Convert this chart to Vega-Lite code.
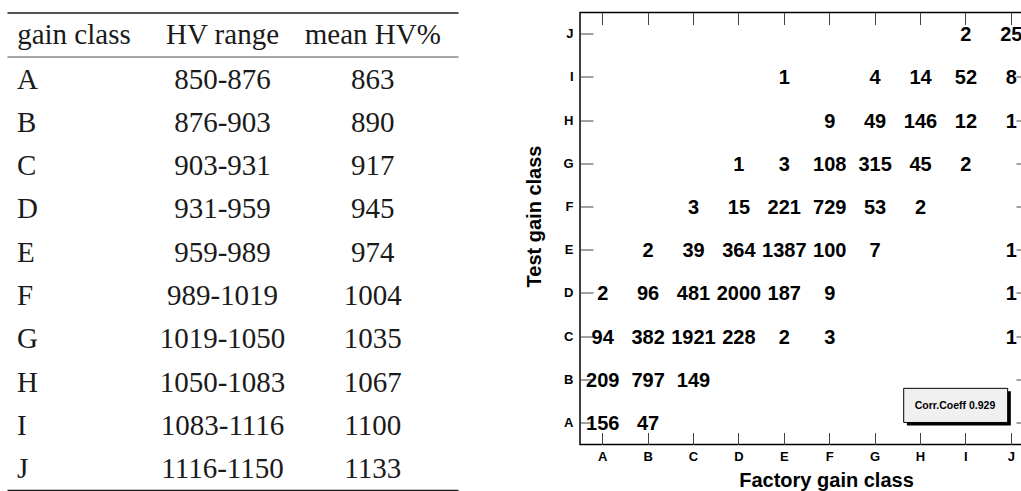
{
  "$schema": "https://vega.github.io/schema/vega-lite/v6.json",
  "background": "white",
  "padding": {"left": 7, "top": 10.5, "right": 0, "bottom": 0},
  "spacing": 65,
  "config": {
    "view": {"stroke": null},
    "axis": {"labelOverlap": false, "labelBound": false, "labelFlush": false}
  },
  "datasets": {
    "hv": [
      {"gain class": "A", "HV range": "850-876", "mean HV%": 863},
      {"gain class": "B", "HV range": "876-903", "mean HV%": 890},
      {"gain class": "C", "HV range": "903-931", "mean HV%": 917},
      {"gain class": "D", "HV range": "931-959", "mean HV%": 945},
      {"gain class": "E", "HV range": "959-989", "mean HV%": 974},
      {"gain class": "F", "HV range": "989-1019", "mean HV%": 1004},
      {"gain class": "G", "HV range": "1019-1050", "mean HV%": 1035},
      {"gain class": "H", "HV range": "1050-1083", "mean HV%": 1067},
      {"gain class": "I", "HV range": "1083-1116", "mean HV%": 1100},
      {"gain class": "J", "HV range": "1116-1150", "mean HV%": 1133}
    ],
    "counts": [
      {"test": "J", "factory": "I", "count": 2},
      {"test": "J", "factory": "J", "count": 25},
      {"test": "I", "factory": "E", "count": 1},
      {"test": "I", "factory": "G", "count": 4},
      {"test": "I", "factory": "H", "count": 14},
      {"test": "I", "factory": "I", "count": 52},
      {"test": "I", "factory": "J", "count": 8},
      {"test": "H", "factory": "F", "count": 9},
      {"test": "H", "factory": "G", "count": 49},
      {"test": "H", "factory": "H", "count": 146},
      {"test": "H", "factory": "I", "count": 12},
      {"test": "H", "factory": "J", "count": 1},
      {"test": "G", "factory": "D", "count": 1},
      {"test": "G", "factory": "E", "count": 3},
      {"test": "G", "factory": "F", "count": 108},
      {"test": "G", "factory": "G", "count": 315},
      {"test": "G", "factory": "H", "count": 45},
      {"test": "G", "factory": "I", "count": 2},
      {"test": "F", "factory": "C", "count": 3},
      {"test": "F", "factory": "D", "count": 15},
      {"test": "F", "factory": "E", "count": 221},
      {"test": "F", "factory": "F", "count": 729},
      {"test": "F", "factory": "G", "count": 53},
      {"test": "F", "factory": "H", "count": 2},
      {"test": "E", "factory": "B", "count": 2},
      {"test": "E", "factory": "C", "count": 39},
      {"test": "E", "factory": "D", "count": 364},
      {"test": "E", "factory": "E", "count": 1387},
      {"test": "E", "factory": "F", "count": 100},
      {"test": "E", "factory": "G", "count": 7},
      {"test": "E", "factory": "J", "count": 1},
      {"test": "D", "factory": "A", "count": 2},
      {"test": "D", "factory": "B", "count": 96},
      {"test": "D", "factory": "C", "count": 481},
      {"test": "D", "factory": "D", "count": 2000},
      {"test": "D", "factory": "E", "count": 187},
      {"test": "D", "factory": "F", "count": 9},
      {"test": "D", "factory": "J", "count": 1},
      {"test": "C", "factory": "A", "count": 94},
      {"test": "C", "factory": "B", "count": 382},
      {"test": "C", "factory": "C", "count": 1921},
      {"test": "C", "factory": "D", "count": 228},
      {"test": "C", "factory": "E", "count": 2},
      {"test": "C", "factory": "F", "count": 3},
      {"test": "C", "factory": "J", "count": 1},
      {"test": "B", "factory": "A", "count": 209},
      {"test": "B", "factory": "B", "count": 797},
      {"test": "B", "factory": "C", "count": 149},
      {"test": "A", "factory": "A", "count": 156},
      {"test": "A", "factory": "B", "count": 47}
    ],
    "stats": [
      {"stat": "Corr.Coeff", "value": 0.929}
    ]
  },
  "hconcat": [
    {
      "width": 451,
      "height": 477.4,
      "data": {"name": "hv"},
      "transform": [
        {"fold": ["gain class", "HV range", "mean HV%"], "as": ["column", "cell"]}
      ],
      "encoding": {
        "y": {
          "field": "gain class",
          "type": "nominal",
          "scale": {"type": "band", "domain": ["A", "B", "C", "D", "E", "F", "G", "H", "I", "J"], "paddingInner": 0, "paddingOuter": 0.5127, "align": 1},
          "axis": {
            "orient": "left",
            "title": null,
            "labels": false,
            "ticks": false,
            "domain": false,
            "grid": true,
            "bandPosition": 0.0001,
            "gridWidth": 1.6,
            "gridColor": {"condition": {"test": "datum.value === 'A'", "value": "#8a8a8a"}, "value": "transparent"}
          }
        },
        "text": {"field": "cell", "type": "nominal"}
      },
      "layer": [
        {
          "transform": [{"filter": "datum.column === 'gain class'"}],
          "mark": {"type": "text", "align": "left", "baseline": "middle", "dx": 10, "dy": 1, "font": "Liberation Serif", "fontSize": 29, "color": "#1a1a1a"},
          "encoding": {
            "x": {
              "field": "column",
              "type": "nominal",
              "bandPosition": 0.0001,
              "scale": {"type": "band", "domain": ["gain class", "HV range", "mean HV%"], "paddingInner": 0, "paddingOuter": 0},
              "axis": {
                "orient": "top",
                "title": null,
                "ticks": false,
                "tickSize": 0,
                "domain": true,
                "domainColor": "#1a1a1a",
                "domainWidth": 1.3,
                "labelFont": "Liberation Serif",
                "labelFontSize": 29,
                "labelColor": "#1a1a1a",
                "labelAngle": 0,
                "labelLimit": 0,
                "labelBaseline": "alphabetic",
                "labelPadding": -31,
                "labelAlign": {"condition": {"test": "datum.value === 'gain class'", "value": "left"}, "value": "center"},
                "labelOffset": {"condition": {"test": "datum.value === 'gain class'", "value": -65}, "value": -10}
              }
            }
          }
        },
        {
          "transform": [{"filter": "datum.column !== 'gain class'"}],
          "mark": {"type": "text", "align": "center", "baseline": "middle", "dx": -10, "dy": 1, "font": "Liberation Serif", "fontSize": 29, "color": "#1a1a1a"},
          "encoding": {
            "x": {
              "field": "column",
              "type": "nominal",
              "scale": {"type": "band", "domain": ["gain class", "HV range", "mean HV%"], "paddingInner": 0, "paddingOuter": 0},
              "axis": {
                "orient": "bottom",
                "title": null,
                "ticks": false,
                "tickSize": 0,
                "labels": false,
                "domain": true,
                "domainColor": "#1a1a1a",
                "domainWidth": 1.3
              }
            }
          }
        }
      ],
      "resolve": {"axis": {"x": "independent"}}
    },
    {
      "width": 454,
      "height": 432,
      "view": {"stroke": "#000000", "strokeWidth": 1.5},
      "layer": [
        {
          "data": {"name": "counts"},
          "mark": {"type": "text", "font": "Liberation Sans", "fontWeight": "bold", "fontSize": 20, "color": "#000000", "baseline": "middle", "dy": 1, "clip": true},
          "encoding": {
            "x": {
              "field": "factory",
              "type": "nominal",
              "scale": {"domain": ["A", "B", "C", "D", "E", "F", "G", "H", "I", "J"], "paddingInner": 0, "paddingOuter": 0},
              "axis": {
                "orient": "bottom",
                "domain": false,
                "ticks": true,
                "tickSize": -12,
                "tickColor": "#444444",
                "tickWidth": 1,
                "labelFont": "Liberation Sans",
                "labelFontWeight": "bold",
                "labelFontSize": 13,
                "labelColor": "#000000",
                "labelAngle": 0,
                "labelBaseline": "top",
                "labelPadding": 18,
                "title": "Factory gain class",
                "titleFont": "Liberation Sans",
                "titleFontWeight": "bold",
                "titleFontSize": 20,
                "titleColor": "#000000",
                "titleX": 246,
                "titleY": 41.5,
                "titleAlign": "center",
                "titleBaseline": "alphabetic"
              }
            },
            "y": {
              "field": "test",
              "type": "nominal",
              "scale": {"domain": ["J", "I", "H", "G", "F", "E", "D", "C", "B", "A"], "paddingInner": 0, "paddingOuter": 0},
              "axis": {
                "orient": "left",
                "domain": false,
                "ticks": true,
                "tickSize": -13,
                "tickColor": "#444444",
                "tickWidth": 1,
                "labelFont": "Liberation Sans",
                "labelFontWeight": "bold",
                "labelFontSize": 13,
                "labelColor": "#000000",
                "labelPadding": 20,
                "title": "Test gain class",
                "titleFont": "Liberation Sans",
                "titleFontWeight": "bold",
                "titleFontSize": 20,
                "titleColor": "#000000",
                "titleX": -39.5,
                "titleY": 203.5,
                "titleAngle": -90,
                "titleAlign": "center",
                "titleBaseline": "alphabetic"
              }
            },
            "text": {"field": "count", "type": "quantitative", "format": "d"}
          }
        },
        {
          "data": {"name": "stats"},
          "mark": {"type": "rect", "color": "#000000"},
          "encoding": {
            "x": {"datum": "H", "bandPosition": 0.2, "type": "nominal", "axis": {"orient": "top", "domain": false, "ticks": true, "tickSize": -12, "tickColor": "#444444", "labels": false, "title": null}},
            "x2": {"datum": "J", "bandPosition": 0.49},
            "y": {"datum": "B", "bandPosition": 0.77, "type": "nominal", "axis": {"orient": "right", "domain": false, "ticks": true, "tickSize": -18, "tickColor": "#444444", "labels": false, "title": null}},
            "y2": {"datum": "A", "bandPosition": 0.56}
          }
        },
        {
          "data": {"name": "stats"},
          "mark": {"type": "rect", "fill": "#f0f0f0", "stroke": "#000000", "strokeWidth": 1},
          "encoding": {
            "x": {"datum": "H", "bandPosition": 0.13, "type": "nominal", "axis": null},
            "x2": {"datum": "J", "bandPosition": 0.42},
            "y": {"datum": "B", "bandPosition": 0.7, "type": "nominal", "axis": null},
            "y2": {"datum": "A", "bandPosition": 0.49}
          }
        },
        {
          "data": {"name": "stats"},
          "transform": [{"calculate": "datum.stat + ' ' + format(datum.value, '.3f')", "as": "label"}],
          "mark": {"type": "text", "font": "Liberation Sans", "fontWeight": "bold", "fontSize": 10.5, "color": "#000000", "baseline": "middle", "align": "center"},
          "encoding": {
            "x": {"datum": "I", "bandPosition": 0.26, "type": "nominal", "axis": null},
            "y": {"datum": "A", "bandPosition": 0.1, "type": "nominal", "axis": null},
            "text": {"field": "label"}
          }
        }
      ],
      "resolve": {"axis": {"x": "independent", "y": "independent"}}
    }
  ]
}
